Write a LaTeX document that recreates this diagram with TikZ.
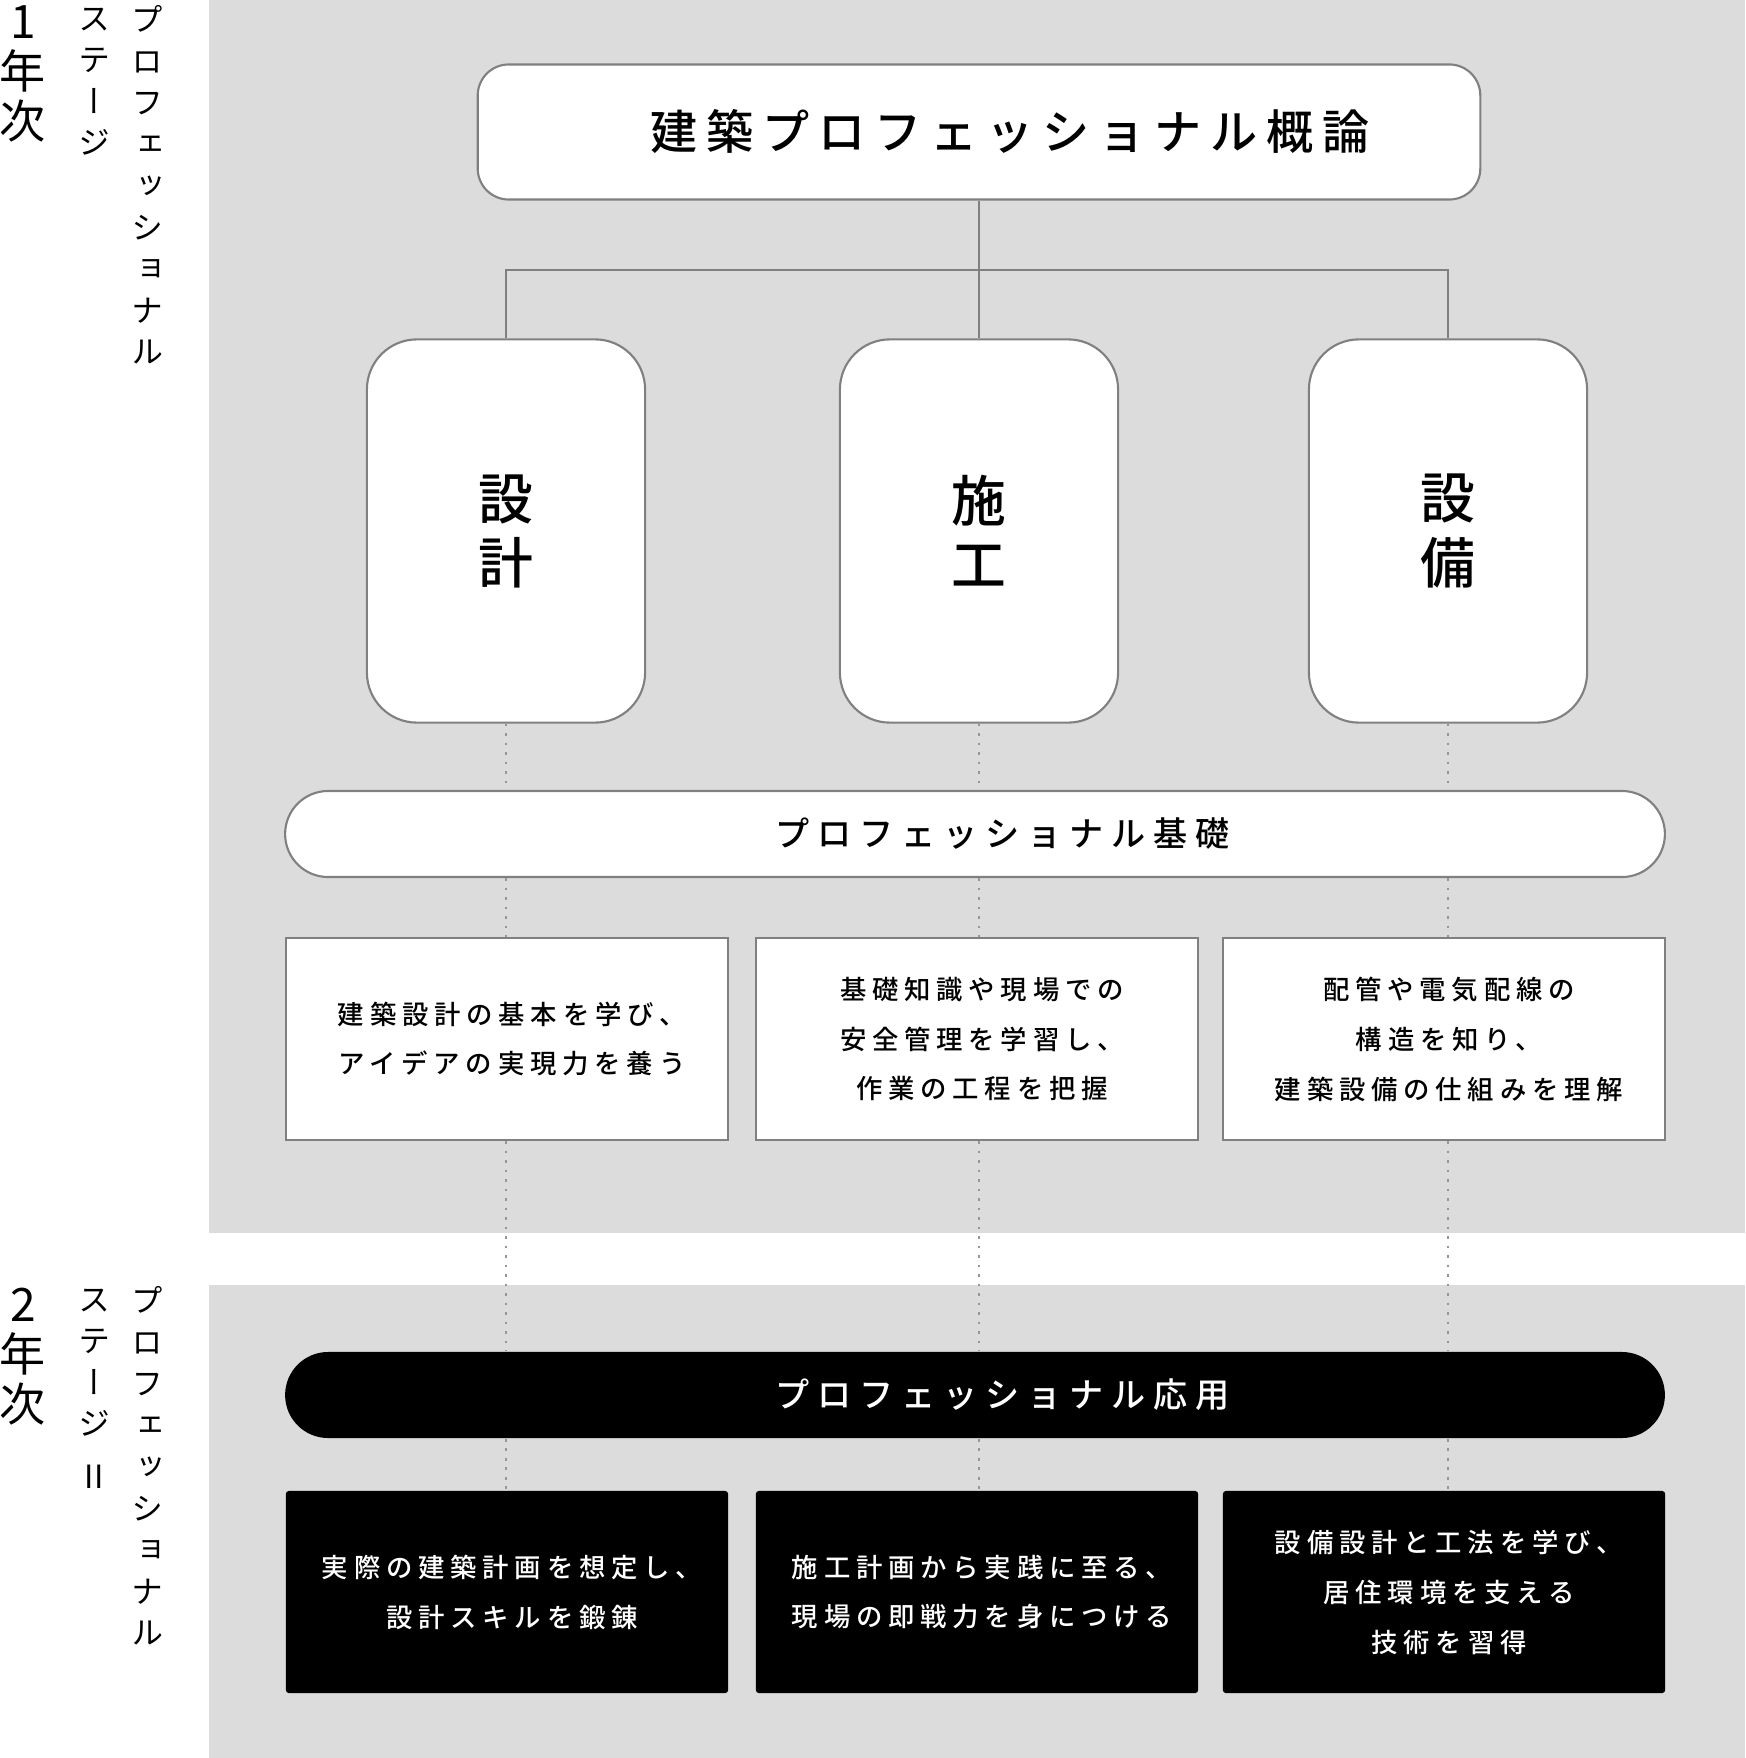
\documentclass[tikz,border=0pt]{standalone}
\usepackage{fontspec}
\setmainfont{Noto Sans CJK JP}
\IfFontExistsTF{Noto Sans CJK JP Medium}
  {\newfontfamily\jpmed{Noto Sans CJK JP Medium}}
  {\newfontfamily\jpmed{Noto Sans CJK JP}[FakeBold=1]}
\newfontfamily\vjp{Noto Sans CJK JP}[RawFeature=+vert]
\newcommand{\trk}[1]{\addfontfeatures{LetterSpace=#1}}
\definecolor{panel}{RGB}{220,220,220}
\definecolor{edge}{RGB}{128,128,128}
\definecolor{dots}{RGB}{150,150,150}

\begin{document}
\begin{tikzpicture}[x=0.01cm,y=-0.01cm,
    title/.style={draw=edge,line width=0.6pt,fill=white,rounded corners=3.1mm,
      minimum width=10.02cm,minimum height=1.35cm,inner sep=0,
      font=\jpmed\fontsize{13.4pt}{16pt}\selectfont\trk{19}},
    field/.style={draw=edge,line width=0.6pt,fill=white,rounded corners=5mm,
      minimum width=2.78cm,minimum height=3.83cm,inner sep=0,align=center,
      font=\jpmed\fontsize{15.6pt}{18.2pt}\selectfont},
    bar/.style={rounded corners=4.3mm,minimum width=13.79cm,minimum height=0.86cm,inner sep=0,
      font=\jpmed\fontsize{9.7pt}{12pt}\selectfont\trk{23}},
    desc/.style={draw=edge,line width=0.6pt,fill=white,minimum width=4.42cm,minimum height=2.02cm,
      inner sep=0,xshift=0.5mm,align=center,font=\jpmed\fontsize{7.5pt}{14.2pt}\selectfont\trk{22}},
    course/.style={desc,draw=none,fill=black,text=white,rounded corners=0.3mm},
    tree/.style={draw=edge,line width=0.5pt},
    dotline/.style={draw=dots,line width=0.6pt,dash pattern=on 0.8pt off 1.9pt},
    year/.style={anchor=north,inner sep=0,align=center,font=\fontsize{13.1pt}{14.2pt}\selectfont},
    stage/.style={anchor=north,inner sep=0,align=center,font=\vjp\fontsize{9.1pt}{11.8pt}\selectfont}]
  \useasboundingbox (0,0) rectangle (1745,1758);
  % two stages
  \fill[panel] (209,0) rectangle (1745,1233);
  \fill[panel] (209,1285) rectangle (1745,1758);

  \node[year] (y1) at (23,5){1\\年\\次};
  \node[stage] (st1) at (94,7){ス\\テ\\ー\\ジ};
  \node[stage] (pr1) at (147,5){プ\\ロ\\フ\\ェ\\ッ\\シ\\ョ\\ナ\\ル};
  \node[year] (y2) at (23,1287){2\\年\\次};
  \node[stage] (st2) at (94,1288){ス\\テ\\ー\\ジ\\[3.3pt]II};
  \node[stage] (pr2) at (147,1286){プ\\ロ\\フ\\ェ\\ッ\\シ\\ョ\\ナ\\ル};

  \node[title] (gairon) at (979,132){\hspace*{6.2mm}建築プロフェッショナル概論};

  \node[field] (sekkei) at (506,531){設\\計};
  \node[field] (sekou) at (979,531){施\\工};
  \node[field] (setsubi) at (1448,531){設\\備};

  \coordinate (branch) at (979,270);
  \draw[tree] (gairon.south) -- (sekou.north);
  \draw[tree] (sekkei.north) |- (branch) -| (setsubi.north);

  \node[bar,draw=edge,line width=0.6pt,fill=white] (kiso) at (975,834){\hspace*{5.5mm}プロフェッショナル基礎};

  \node[desc] (k1) at (502,1039){\hspace*{1mm}建築設計の基本を学び、\\\hspace*{1mm}アイデアの実現力を養う};
  \node[desc] (k2) at (972,1039){\hspace*{1mm}基礎知識や現場での\\\hspace*{1mm}安全管理を学習し、\\\hspace*{1mm}作業の工程を把握};
  \node[desc] (k3) at (1439,1039){\hspace*{1mm}配管や電気配線の\\\hspace*{1mm}構造を知り、\\\hspace*{1mm}建築設備の仕組みを理解};

  \node[bar,fill=black,text=white] (ouyou) at (975,1395){\hspace*{5.5mm}プロフェッショナル応用};

  \node[course] (o1) at (502,1592){\hspace*{1mm}実際の建築計画を想定し、\\\hspace*{1mm}設計スキルを鍛錬};
  \node[course] (o2) at (972,1592){\hspace*{1mm}施工計画から実践に至る、\\\hspace*{1mm}現場の即戦力を身につける};
  \node[course] (o3) at (1439,1592){\hspace*{1mm}設備設計と工法を学び、\\\hspace*{1mm}居住環境を支える\\\hspace*{1mm}技術を習得};

  % dotted links down each field
  \foreach \f/\k/\o in {sekkei/k1/o1,sekou/k2/o2,setsubi/k3/o3}{
    \draw[dotline] (\f.south) -- (\f.south |- kiso.north);
    \draw[dotline] (\f.south |- kiso.south) -- (\f.south |- \k.north);
    \draw[dotline] (\f.south |- \k.south) -- (\f.south |- ouyou.north);
    \draw[dotline] (\f.south |- ouyou.south) -- (\f.south |- \o.north);
  }
\end{tikzpicture}
\end{document}
